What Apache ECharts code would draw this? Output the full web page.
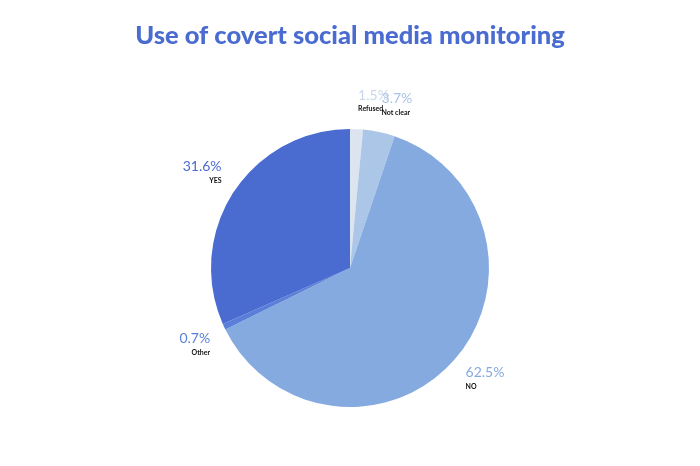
<!DOCTYPE html>
<html><head><meta charset="utf-8">
<script src="https://cdn.jsdelivr.net/npm/echarts@6/dist/echarts.min.js"></script>
<style>html,body{margin:0;padding:0;background:#fff}#c{width:700px;height:466px}</style>
</head><body><div id="c"></div>
<script>
const categories = ['Refused', 'Not clear', 'NO', 'Other', 'YES'];
const values = [1.5, 3.7, 62.5, 0.7, 31.6];
const colors = ['#dbe4ef', '#abc6e6', '#85aae0', '#5b7fd8', '#4a6bd0'];
const labelColors = ['#c9d6ea', '#a9c3e8', '#85aae0', '#5b7fd8', '#4a6bd0'];
const labelShift = [[-14, -17], [-15, -17], [-13, 10], [12, 12], [13, -14]];

const chart = echarts.init(document.getElementById('c'));
chart.setOption({
  animation: false,
  title: {
    text: 'Use of covert social media monitoring',
    left: 'center', top: 18,
    textStyle: { fontFamily: 'Lato', fontWeight: 900, fontSize: 25.5, color: '#4a6bd0' }
  },
  series: [{
    type: 'pie',
    center: [350, 268],
    radius: [0, 139],
    startAngle: 90,
    clockwise: true,
    avoidLabelOverlap: false,
    data: categories.map((c, i) => ({
      name: c, value: values[i],
      itemStyle: { color: colors[i] },
      label: { rich: { p: { color: labelColors[i], fontSize: 14, fontFamily: 'Lato', lineHeight: 18 }, n: { color: '#111', fontSize: 7, fontFamily: 'Lato', fontWeight: 'bold', lineHeight: 10 } } }
    })),
    label: {
      show: true,
      position: 'outside',
      formatter: p => '{p|' + p.value.toFixed(1) + '%}\n{n|' + p.name + '}'
    },
    labelLine: { show: false, length: 12, length2: 10 },
    labelLayout: p => ({ hideOverlap: false, dx: labelShift[p.dataIndex][0], dy: labelShift[p.dataIndex][1] })
  }]
});
</script></body></html>
